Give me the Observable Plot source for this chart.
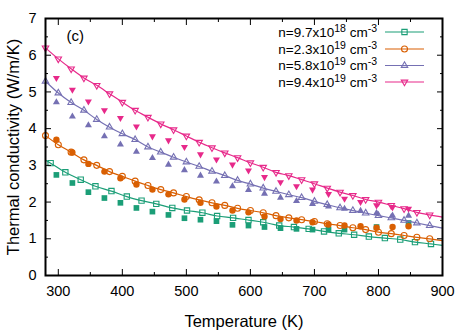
<!DOCTYPE html>
<html><head><meta charset="utf-8">
<script src="https://cdn.jsdelivr.net/npm/d3@7"></script>
<script src="https://cdn.jsdelivr.net/npm/@observablehq/plot@0.6"></script>
<style>
body{margin:0;background:#fff}
#chart{width:471px;height:330px}
</style>
</head><body><div id="chart"></div>
<script>
// ---- data ----
const seriesKeys = ["n1", "n2", "n3", "n4"];
const seriesColors = ["#1b9e77", "#d95f02", "#7570b3", "#e7298a"];
const seriesSymbols = ["square", "circle", "triangle", "triangle"];
const seriesRotate = [0, 0, 0, 180];
const legendMantissa = ["9.7", "2.3", "5.8", "9.4"];
const legendExponent = ["18", "19", "19", "19"];

// model curves with open markers
const tempFit = [280,300,320,340,360,380,400,420,440,460,480,500,520,540,560,580,600,620,640,660,680,700,720,740,760,780,800,820,840,860,880];
const fitOrange = [3.81,3.56,3.36,3.15,3.00,2.83,2.70,2.57,2.45,2.34,2.25,2.15,2.06,1.98,1.91,1.83,1.77,1.71,1.63,1.57,1.52,1.47,1.41,1.36,1.30,1.25,1.18,1.14,1.09,1.04,1.00];
const fitPurple = [5.29,4.97,4.71,4.50,4.25,4.04,3.86,3.70,3.50,3.36,3.22,3.09,2.97,2.84,2.72,2.59,2.49,2.38,2.29,2.20,2.12,2.02,1.93,1.84,1.77,1.70,1.63,1.57,1.50,1.43,1.36];
const fitPink = [6.20,5.90,5.63,5.38,5.18,4.95,4.72,4.50,4.31,4.13,3.97,3.80,3.63,3.48,3.34,3.21,3.07,2.95,2.81,2.72,2.61,2.50,2.38,2.27,2.18,2.07,2.00,1.91,1.82,1.72,1.65];
const tempFitGreen = [288,311,335,358,383,407,430,453,478,501,525,548,573,597,620,645,668,691,715,738,762,785,810,834,857,882];
const fitGreen = [3.06,2.81,2.61,2.43,2.30,2.15,2.04,1.95,1.84,1.77,1.71,1.62,1.57,1.51,1.45,1.36,1.32,1.27,1.20,1.15,1.11,1.06,1.02,0.98,0.91,0.86];
// curve ends (line only, no marker)
const curveStartT = 280, curveEndT = 900;
const curveStart = [3.14, null, null, null];
const curveEnd = [0.82, 0.95, 1.29, 1.59];

// experimental (filled markers)
const tempExp = [297,322,347,372,397,422,447,472,497,522,547,572,597,622,647,672,697,722,747,772,797,822,847];
const expGreen = [2.74,2.52,2.27,2.11,1.98,1.84,1.74,1.65,1.56,1.52,1.48,1.38,1.36,1.32,1.29,1.27,1.25,1.25,1.25,null,1.32,null,1.43];
const expOrange = [3.70,3.35,3.04,2.83,2.65,2.48,2.34,2.21,2.07,1.98,1.88,1.77,1.72,1.61,1.54,1.50,1.45,1.39,1.36,1.34,1.30,1.32,1.34];
const expPurple = [4.72,4.33,4.09,3.79,3.57,3.37,3.20,3.02,2.87,2.72,2.56,2.43,2.33,2.23,2.12,2.03,1.95,1.88,1.82,1.76,1.70,1.63,1.63];
const expPink = [5.38,5.06,4.74,4.50,4.29,4.06,3.79,3.68,3.50,3.30,3.16,3.02,2.86,2.68,2.54,2.43,2.34,2.22,2.09,2.00,1.91,1.86,1.82];

const xMajorTicks = [300,400,500,600,700,800,900];
const xMinorTicks = [350,450,550,650,750,850];
const yMajorTicks = [0,1,2,3,4,5,6,7];
const yMinorTicks = [0.5,1.5,2.5,3.5,4.5,5.5,6.5];
const panelLabel = "(c)";
const xLabel = "Temperature (K)";
const yLabel = "Thermal conductivity (W/m/K)";

// ---- build tables ----
const fitTemps = [tempFitGreen, tempFit, tempFit, tempFit];
const fitVals = [fitGreen, fitOrange, fitPurple, fitPink];
const expVals = [expGreen, expOrange, expPurple, expPink];

const markerRows = [], lineRows = [], expRows = [];
seriesKeys.forEach((k, i) => {
  if (curveStart[i] != null) lineRows.push({s: k, T: curveStartT, v: curveStart[i]});
  fitTemps[i].forEach((T, j) => {
    markerRows.push({s: k, T, v: fitVals[i][j]});
    lineRows.push({s: k, T, v: fitVals[i][j]});
  });
  lineRows.push({s: k, T: curveEndT, v: curveEnd[i]});
  tempExp.forEach((T, j) => {
    if (expVals[i][j] != null) expRows.push({s: k, T, v: expVals[i][j]});
  });
});

const marks = [];
seriesKeys.forEach((k, i) => {
  const sz = seriesSymbols[i] === "triangle" ? 2.4 : 3;
  marks.push(Plot.line(lineRows.filter(d => d.s === k), {x: "T", y: "v", stroke: seriesColors[i], strokeWidth: 1.2, curve: "catmull-rom"}));
  marks.push(Plot.dot(markerRows.filter(d => d.s === k), {x: "T", y: "v", stroke: seriesColors[i], fill: "none", strokeWidth: 1.1, symbol: seriesSymbols[i], r: sz, rotate: seriesRotate[i]}));
  marks.push(Plot.dot(expRows.filter(d => d.s === k), {x: "T", y: "v", fill: seriesColors[i], stroke: "none", symbol: seriesSymbols[i], r: sz + 0.2, rotate: seriesRotate[i]}));
});

const font = "'Liberation Sans', Arial, Helvetica, sans-serif";
const svg = Plot.plot({
  width: 471, height: 330,
  marginLeft: 45, marginRight: 29, marginTop: 18, marginBottom: 55,
  style: {fontFamily: font, fontSize: "15px", color: "#000", background: "#fff"},
  x: {domain: [280, 900]},
  y: {domain: [0, 7]},
  marks: [
    ...marks,
    Plot.axisX({anchor: "bottom", ticks: xMajorTicks, tickSize: 0, tickPadding: 10, fontSize: 14.5, tickFormat: d3.format("d"), label: null}),
    Plot.axisX({anchor: "bottom", ticks: [], tickSize: 0, label: xLabel, labelAnchor: "center", labelOffset: 51, labelArrow: "none"}),
    Plot.axisX({anchor: "bottom", ticks: xMajorTicks, tickSize: -6, tickFormat: () => "", label: null}),
    Plot.axisX({anchor: "bottom", ticks: xMinorTicks, tickSize: -3, tickFormat: () => "", label: null}),
    Plot.axisX({anchor: "top", ticks: xMajorTicks, tickSize: -6, tickFormat: () => "", label: null}),
    Plot.axisX({anchor: "top", ticks: xMinorTicks, tickSize: -3, tickFormat: () => "", label: null}),
    Plot.axisY({anchor: "left", ticks: yMajorTicks, tickSize: 0, tickPadding: 9, fontSize: 14.5, tickFormat: d3.format("d"), label: null}),
    Plot.axisY({anchor: "left", ticks: [], tickSize: 0, label: yLabel, labelAnchor: "center", labelOffset: 38, labelArrow: "none"}),
    Plot.axisY({anchor: "left", ticks: yMajorTicks, tickSize: -6, tickFormat: () => "", label: null}),
    Plot.axisY({anchor: "left", ticks: yMinorTicks, tickSize: -3, tickFormat: () => "", label: null}),
    Plot.axisY({anchor: "right", ticks: yMajorTicks, tickSize: -6, tickFormat: () => "", label: null}),
    Plot.axisY({anchor: "right", ticks: yMinorTicks, tickSize: -3, tickFormat: () => "", label: null}),
    Plot.text([panelLabel], {text: d => d, frameAnchor: "top-left", dx: 21, dy: 12, fontSize: 15, textAnchor: "start", lineAnchor: "top"}),
    Plot.frame({stroke: "#000", strokeWidth: 2})
  ]
});

// enlarge axis titles
d3.select(svg).selectAll('g[aria-label="x-axis label"], g[aria-label="y-axis label"]')
  .attr("font-size", 16.5).style("font-size", "16.5px")
  .selectAll("text").attr("font-size", 16.5).style("font-size", "16.5px");

// legend (inside plot, top right)
const lg = d3.select(svg).append("g").attr("font-family", font).attr("font-size", 13.5);
const rowY = [32, 49, 65.5, 82];
seriesKeys.forEach((k, i) => {
  const y = rowY[i];
  const t = lg.append("text").attr("x", 377).attr("y", y + 4.5).attr("text-anchor", "end").attr("fill", "#000");
  t.append("tspan").text("n=" + legendMantissa[i] + "x10");
  t.append("tspan").attr("dy", -5).attr("font-size", 10.5).text(legendExponent[i]);
  t.append("tspan").attr("dy", 5).text(" cm");
  t.append("tspan").attr("dy", -5).attr("font-size", 10.5).text("-3");
  lg.append("line").attr("x1", 385).attr("x2", 424).attr("y1", y).attr("y2", y).attr("stroke", seriesColors[i]).attr("stroke-width", 1.2);
  const sym = {square: d3.symbolSquare, circle: d3.symbolCircle, triangle: d3.symbolTriangle}[seriesSymbols[i]];
  const rr = seriesSymbols[i] === "triangle" ? 2.4 : 3;
  lg.append("path").attr("d", d3.symbol(sym, rr * rr * Math.PI)())
    .attr("transform", `translate(404.5,${y}) rotate(${seriesRotate[i]})`)
    .attr("fill", "none").attr("stroke", seriesColors[i]).attr("stroke-width", 1.1);
});

document.getElementById("chart").appendChild(svg);
</script>
</body></html>
